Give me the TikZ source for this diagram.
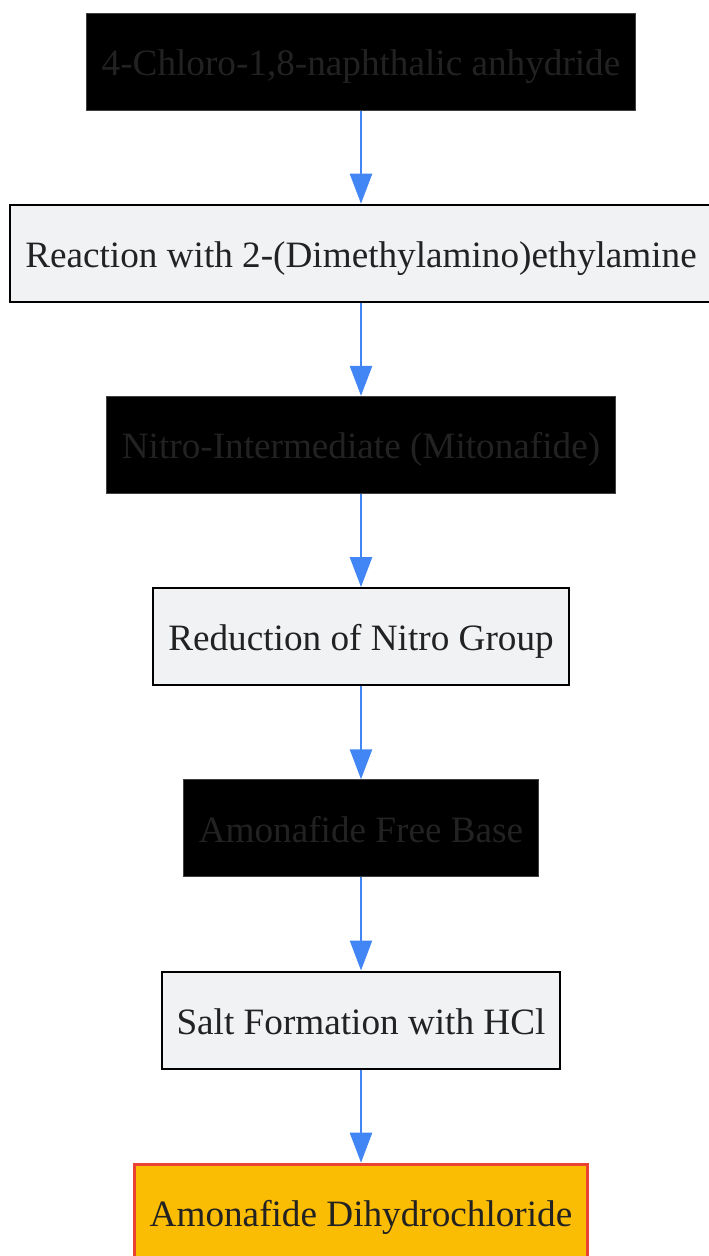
\documentclass[tikz,border=0pt]{standalone}
\usepackage{fontspec}
\setmainfont{Liberation Serif}
\usepackage{tikz}
\usetikzlibrary{arrows, arrows.meta}
\usetikzlibrary{positioning}
\usepackage{xcolor}

\definecolor{flowblue}{HTML}{4285F4}
\definecolor{boxgrey}{HTML}{F1F2F4}
\definecolor{textgrey}{HTML}{222222}
\definecolor{prodyellow}{HTML}{FBBC04}
\definecolor{prodred}{HTML}{EA4335}

\tikzset{
  basebox/.style={rectangle, minimum height=97pt, inner xsep=15pt,
    text height=28pt, text depth=0pt,
    font=\fontsize{37.2}{44}\selectfont, text=textgrey},
  darkbox/.style={basebox, fill=black, draw=black!75, line width=1pt},
  stepbox/.style={basebox, fill=boxgrey, draw=black, line width=2pt},
  finalbox/.style={basebox, fill=prodyellow, draw=prodred, line width=3pt},
  flow/.style={-{Triangle[length=30pt, width=22pt]}, flowblue, line width=2.5pt}
}

\begin{document}
\begin{tikzpicture}[x=1pt, y=1pt, node distance=93.2pt]

\useasboundingbox (0,0) rectangle (709,-1256);
\clip (0,0) rectangle (709,-1256);

%boxes
\node [darkbox] (chloro) at (361,-61.5) {4-Chloro-1,8-naphthalic anhydride};
\node [stepbox, below=of chloro] (reaction) {Reaction with 2-(Dimethylamino)ethylamine};
\node [darkbox, below=of reaction] (nitro) {Nitro-Intermediate (Mitonafide)};
\node [stepbox, below=of nitro] (reduction) {Reduction of Nitro Group};
\node [darkbox, below=of reduction] (freebase) {Amonafide Free Base};
\node [stepbox, below=of freebase] (salt) {Salt Formation with HCl};
\node [finalbox, below=of salt] (product) {Amonafide Dihydrochloride};

%arrows
\draw [flow] (chloro) -- (reaction);
\draw [flow] (reaction) -- (nitro);
\draw [flow] (nitro) -- (reduction);
\draw [flow] (reduction) -- (freebase);
\draw [flow] (freebase) -- (salt);
\draw [flow] (salt) -- (product);

\end{tikzpicture}
\end{document}
